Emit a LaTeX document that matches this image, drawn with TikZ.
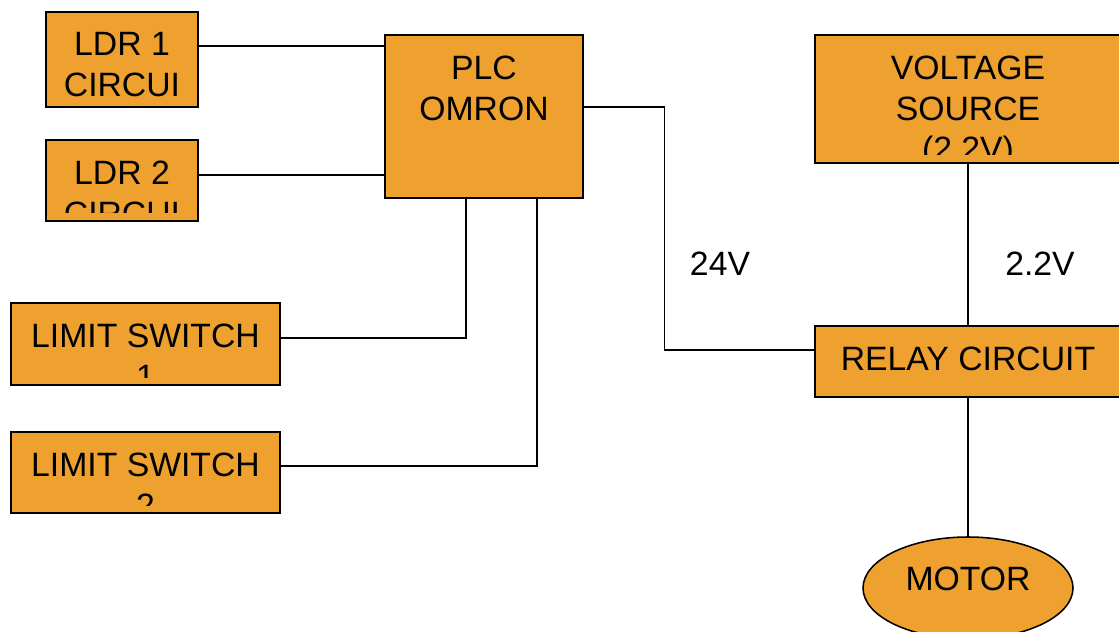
\documentclass[tikz,border=0pt]{standalone}
\usepackage{xcolor}
\usepackage{tikz}
\usepackage{fontspec}
\setmainfont{Liberation Sans}
\usetikzlibrary{positioning,shapes.geometric,calc}
\definecolor{blockorange}{RGB}{239,161,48}
\newcommand{\blockfont}{\fontsize{24}{29}\selectfont}

\begin{document}
\begin{tikzpicture}[
  block/.style={draw, line width=1.1pt, fill=blockorange, inner sep=0pt},
  blocktext/.style={path picture={
      \clip ([yshift=0.2cm]path picture bounding box.south west) rectangle (path picture bounding box.north east);
      \node[anchor=north, align=center, inner sep=0pt, minimum width=0pt, minimum height=0pt, draw=none, fill=none, font=\blockfont] at ([yshift=-0.5cm]path picture bounding box.north) {#1};}},
  motorshape/.style={ellipse, draw, line width=1.1pt, fill=blockorange, font=\blockfont, inner sep=0pt},
  wire/.style={line width=0.9pt},
  volts/.style={font=\blockfont, inner sep=0pt},
]
  \clip (0,0) rectangle (27.975,-15.8);

  \node[block, minimum width=3.8cm, minimum height=2.375cm, blocktext={LDR 1\\CIRCUI}] (ldr1) at (3.05,-1.4875) {};
  \node[block, minimum width=3.8cm, minimum height=2.025cm, blocktext={LDR 2\\CIRCUI}] (ldr2) at (3.05,-4.5125) {};
  \node[block, minimum width=4.95cm, minimum height=4.075cm, blocktext={PLC\\OMRON}] (plc) at (12.1,-2.9125) {};
  \node[block, minimum width=6.725cm, minimum height=2.05cm, blocktext={LIMIT SWITCH\\1}] (ls1) at (3.6375,-8.6) {};
  \node[block, minimum width=6.725cm, minimum height=2.025cm, blocktext={LIMIT SWITCH\\2}] (ls2) at (3.6375,-11.8125) {};
  \node[block, minimum width=7.65cm, minimum height=3.2cm, blocktext={VOLTAGE\\SOURCE\\(2.2V)}] (source) at (24.2,-2.475) {};
  \node[block, minimum width=7.65cm, minimum height=1.775cm, blocktext={RELAY CIRCUIT}] (relay) at (24.2,-9.0375) {};
  \node[motorshape, minimum width=5.25cm, minimum height=2.55cm, text depth=0.44cm] (motor) at (24.2,-14.7) {MOTOR};

  \node[volts] (v24) at (18.0,-6.6) {24V};
  \node[volts] (v22) at (26.0,-6.6) {2.2V};

  \draw[wire] ([yshift=0.34cm]ldr1.east) -- ([yshift=0.34cm]ldr1.east -| plc.west);
  \draw[wire] ([yshift=0.14cm]ldr2.east) -- ([yshift=0.14cm]ldr2.east -| plc.west);
  \draw[wire] ([xshift=-0.45cm]plc.south) |- ([yshift=0.15cm]ls1.east);
  \draw[wire] ([xshift=1.325cm]plc.south) |- ([yshift=0.16cm]ls2.east);
  \draw[wire] ([yshift=0.24cm]plc.east) -- ++(2.025,0) |- ([yshift=0.29cm]relay.west);
  \draw[wire] (source.south) -- (relay.north);
  \draw[wire] (relay.south) -- (motor.north);
\end{tikzpicture}
\end{document}
